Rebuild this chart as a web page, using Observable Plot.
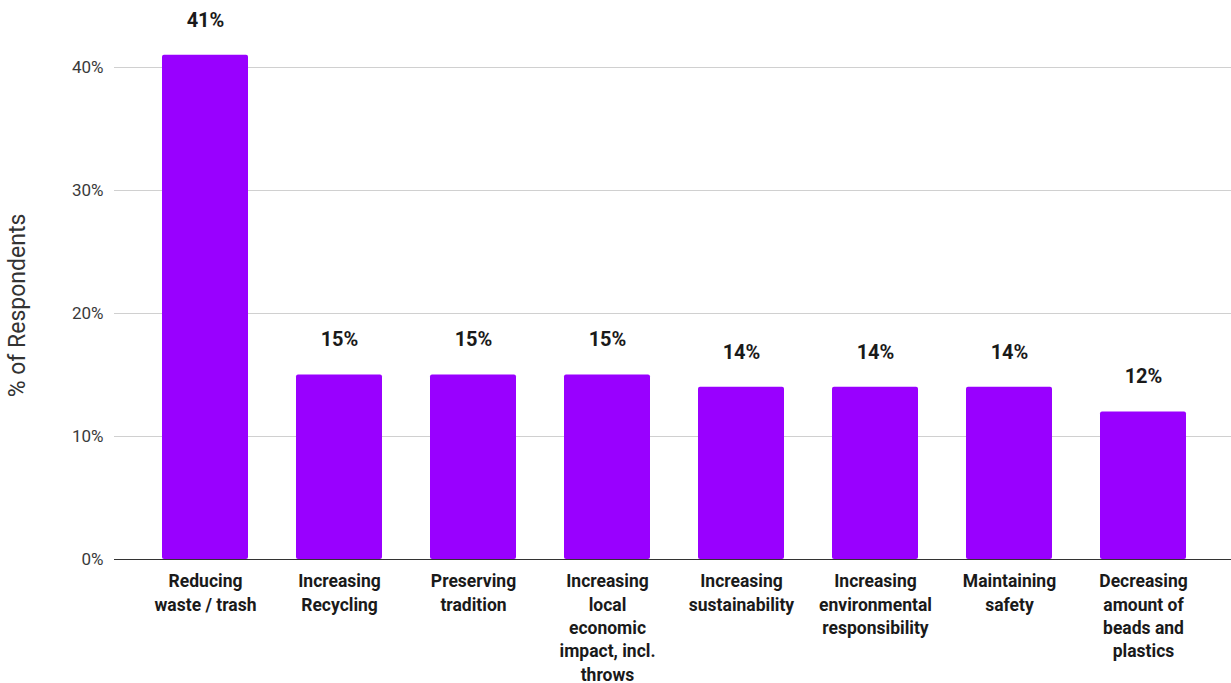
<!DOCTYPE html>
<html>
<head>
<meta charset="utf-8">
<script src="https://cdn.jsdelivr.net/npm/d3@7"></script>
<script src="https://cdn.jsdelivr.net/npm/@observablehq/plot@0.6"></script>
<style>
  html, body { margin: 0; padding: 0; background: #fff; }
  #chart { width: 1231px; height: 683px; }
</style>
</head>
<body>
<div id="chart"></div>
<script>
const categories = [
  "Reducing\nwaste / trash",
  "Increasing\nRecycling",
  "Preserving\ntradition",
  "Increasing\nlocal\neconomic\nimpact, incl.\nthrows",
  "Increasing\nsustainability",
  "Increasing\nenvironmental\nresponsibility",
  "Maintaining\nsafety",
  "Decreasing\namount of\nbeads and\nplastics"
];
const values = [41, 15, 15, 15, 14, 14, 14, 12];
const yTicks = [0, 10, 20, 30, 40];
const yTitle = "% of Respondents";

const data = categories.map((c, i) => ({category: c, value: values[i]}));

const chart = Plot.plot({
  width: 1231,
  height: 683,
  marginLeft: 114,
  marginRight: 0,
  marginTop: 67,
  marginBottom: 124,
  style: {fontFamily: "Roboto, sans-serif", background: "#fff", overflow: "visible"},
  x: {domain: categories, paddingInner: 0.358, paddingOuter: 0.343, align: 0.52, axis: null},
  y: {domain: [0, 40], axis: null},
  marks: [
    Plot.ruleY(yTicks.filter(d => d > 0), {stroke: "#d0d0d0", strokeWidth: 1.2}),
    Plot.barY(data, {x: "category", y: "value", fill: "#9900ff", rx: 2, clip: false}),
    Plot.ruleY([0], {stroke: "#333", strokeWidth: 1.2}),
    Plot.axisY({ticks: yTicks, tickSize: 0, tickPadding: 11, tickFormat: d => d + "%", fontSize: 17, color: "#3a3a3a", label: null}),
    Plot.axisX({tickSize: 0, tickPadding: 11, fontSize: 17.5, fontWeight: "bold", lineHeight: 1.34, color: "#1a1a1a", label: null}),
    Plot.text(data, {x: "category", y: "value", text: d => d.value + "%", dy: -35, fontSize: 20, fontWeight: "bold", fill: "#1a1a1a"}),
    Plot.text([yTitle], {frameAnchor: "left", textAnchor: "middle", dx: -97, dy: -8, rotate: -90, fontSize: 23, fill: "#333", text: d => d})
  ]
});
document.getElementById("chart").appendChild(chart);
</script>
</body>
</html>
